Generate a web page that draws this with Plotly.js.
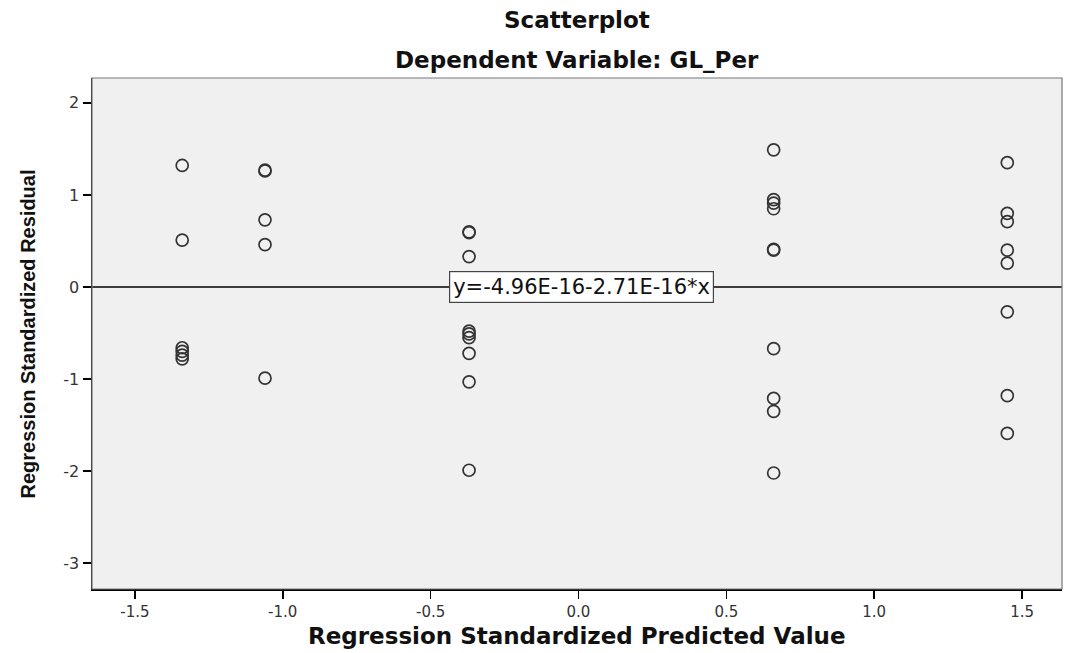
<!DOCTYPE html>
<html>
<head>
<meta charset="utf-8">
<script src="https://cdn.plot.ly/plotly-3.0.1.min.js"></script>
<style>html,body{margin:0;padding:0;background:#fff;}#chart{width:1073px;height:653px;}</style>
</head>
<body>
<div id="chart"></div>
<script>
// Predicted values (x) and residuals (y)
const predicted = [
  -1.34, -1.34, -1.34, -1.34, -1.34, -1.34,
  -1.06, -1.06, -1.06, -1.06, -1.06,
  -0.37, -0.37, -0.37, -0.37, -0.37, -0.37, -0.37, -0.37, -0.37,
  0.66, 0.66, 0.66, 0.66, 0.66, 0.66, 0.66, 0.66, 0.66, 0.66,
  1.45, 1.45, 1.45, 1.45, 1.45, 1.45, 1.45, 1.45
];
const residuals = [
  1.32, 0.51, -0.66, -0.70, -0.74, -0.78,
  1.27, 1.26, 0.73, 0.46, -0.99,
  0.60, 0.59, 0.33, -0.48, -0.51, -0.55, -0.72, -1.03, -1.99,
  1.49, 0.95, 0.91, 0.85, 0.41, 0.40, -0.67, -1.21, -1.35, -2.02,
  1.35, 0.80, 0.71, 0.40, 0.26, -0.27, -1.18, -1.59
];
const fitIntercept = -4.96e-16;
const fitSlope = -2.71e-16;
const fitLabel = "y=-4.96E-16-2.71E-16*x";
const chartTitle = "Scatterplot";
const chartSubtitle = "Dependent Variable: GL_Per";
const xTitle = "Regression Standardized Predicted Value";
const yTitle = "Regression Standardized Residual";
const xRange = [-1.645, 1.635];
const yRange = [-3.28, 2.27];
const xTicks = [-1.5, -1.0, -0.5, 0.0, 0.5, 1.0, 1.5];
const xTickText = ["-1.5", "-1.0", "-0.5", "0.0", "0.5", "1.0", "1.5"];
const yTicks = [-3, -2, -1, 0, 1, 2];
const yTickText = ["-3", "-2", "-1", "0", "1", "2"];

const fitX = [xRange[0], xRange[1]];
const fitY = fitX.map(v => fitIntercept + fitSlope * v);

const data = [
  {
    x: fitX, y: fitY, type: 'scatter', mode: 'lines',
    line: {color: '#000', width: 1.3}, hoverinfo: 'skip', showlegend: false
  },
  {
    x: predicted, y: residuals, type: 'scatter', mode: 'markers',
    marker: {symbol: 'circle-open', size: 12, color: '#333', line: {color: '#333', width: 1.7}},
    showlegend: false
  }
];

const layout = {
  width: 1073, height: 653,
  margin: {l: 92, r: 11, t: 78, b: 64},
  paper_bgcolor: '#ffffff',
  plot_bgcolor: '#f0f0f0',
  font: {family: 'DejaVu Sans, sans-serif', color: '#222'},
  xaxis: {
    range: xRange, tickvals: xTicks, ticktext: xTickText,
    showgrid: false, zeroline: false,
    showline: true, linecolor: '#000', linewidth: 1.5,
    ticks: 'outside', ticklen: 8, tickwidth: 1.5, tickcolor: '#000',
    tickfont: {family: 'DejaVu Sans, sans-serif', size: 15, color: '#333'}
  },
  yaxis: {
    range: yRange, tickvals: yTicks, ticktext: yTickText,
    showgrid: false, zeroline: false,
    showline: true, linecolor: '#000', linewidth: 1.5,
    ticks: 'outside', ticklen: 8, tickwidth: 1.5, tickcolor: '#000',
    tickfont: {family: 'DejaVu Sans, sans-serif', size: 16, color: '#333'}
  },
  shapes: [
    {type: 'rect', xref: 'paper', yref: 'paper', x0: 0, x1: 1, y0: 0, y1: 1,
     line: {color: '#777', width: 1.2}, layer: 'above'}
  ],
  annotations: [
    {x: 0.01, y: fitIntercept + fitSlope * 0.01, xref: 'x', yref: 'y', text: fitLabel,
     showarrow: false, bgcolor: '#ffffff', bordercolor: '#444', borderwidth: 1.2, borderpad: 3,
     font: {family: 'DejaVu Sans, sans-serif', size: 21, color: '#111'}},
    {x: 0.5, y: 1.1135, xref: 'paper', yref: 'paper', text: '<b>' + chartTitle + '</b>',
     showarrow: false, xanchor: 'center', yanchor: 'middle',
     font: {family: 'DejaVu Sans, sans-serif', size: 23, color: '#111'}},
    {x: 0.5, y: 1.035, xref: 'paper', yref: 'paper', text: '<b>' + chartSubtitle + '</b>',
     showarrow: false, xanchor: 'center', yanchor: 'middle',
     font: {family: 'DejaVu Sans, sans-serif', size: 23, color: '#111'}},
    {x: 0.5, y: -0.092, xref: 'paper', yref: 'paper', text: '<b>' + xTitle + '</b>',
     showarrow: false, xanchor: 'center', yanchor: 'middle',
     font: {family: 'DejaVu Sans, sans-serif', size: 23, color: '#111'}},
    {x: -0.066, y: 0.5, xref: 'paper', yref: 'paper', text: '<b>' + yTitle + '</b>',
     showarrow: false, xanchor: 'center', yanchor: 'middle', textangle: -90,
     font: {family: 'Liberation Sans, Arial, sans-serif', size: 20, color: '#111'}}
  ]
};

Plotly.newPlot('chart', data, layout, {displayModeBar: false, staticPlot: true});
</script>
</body>
</html>
